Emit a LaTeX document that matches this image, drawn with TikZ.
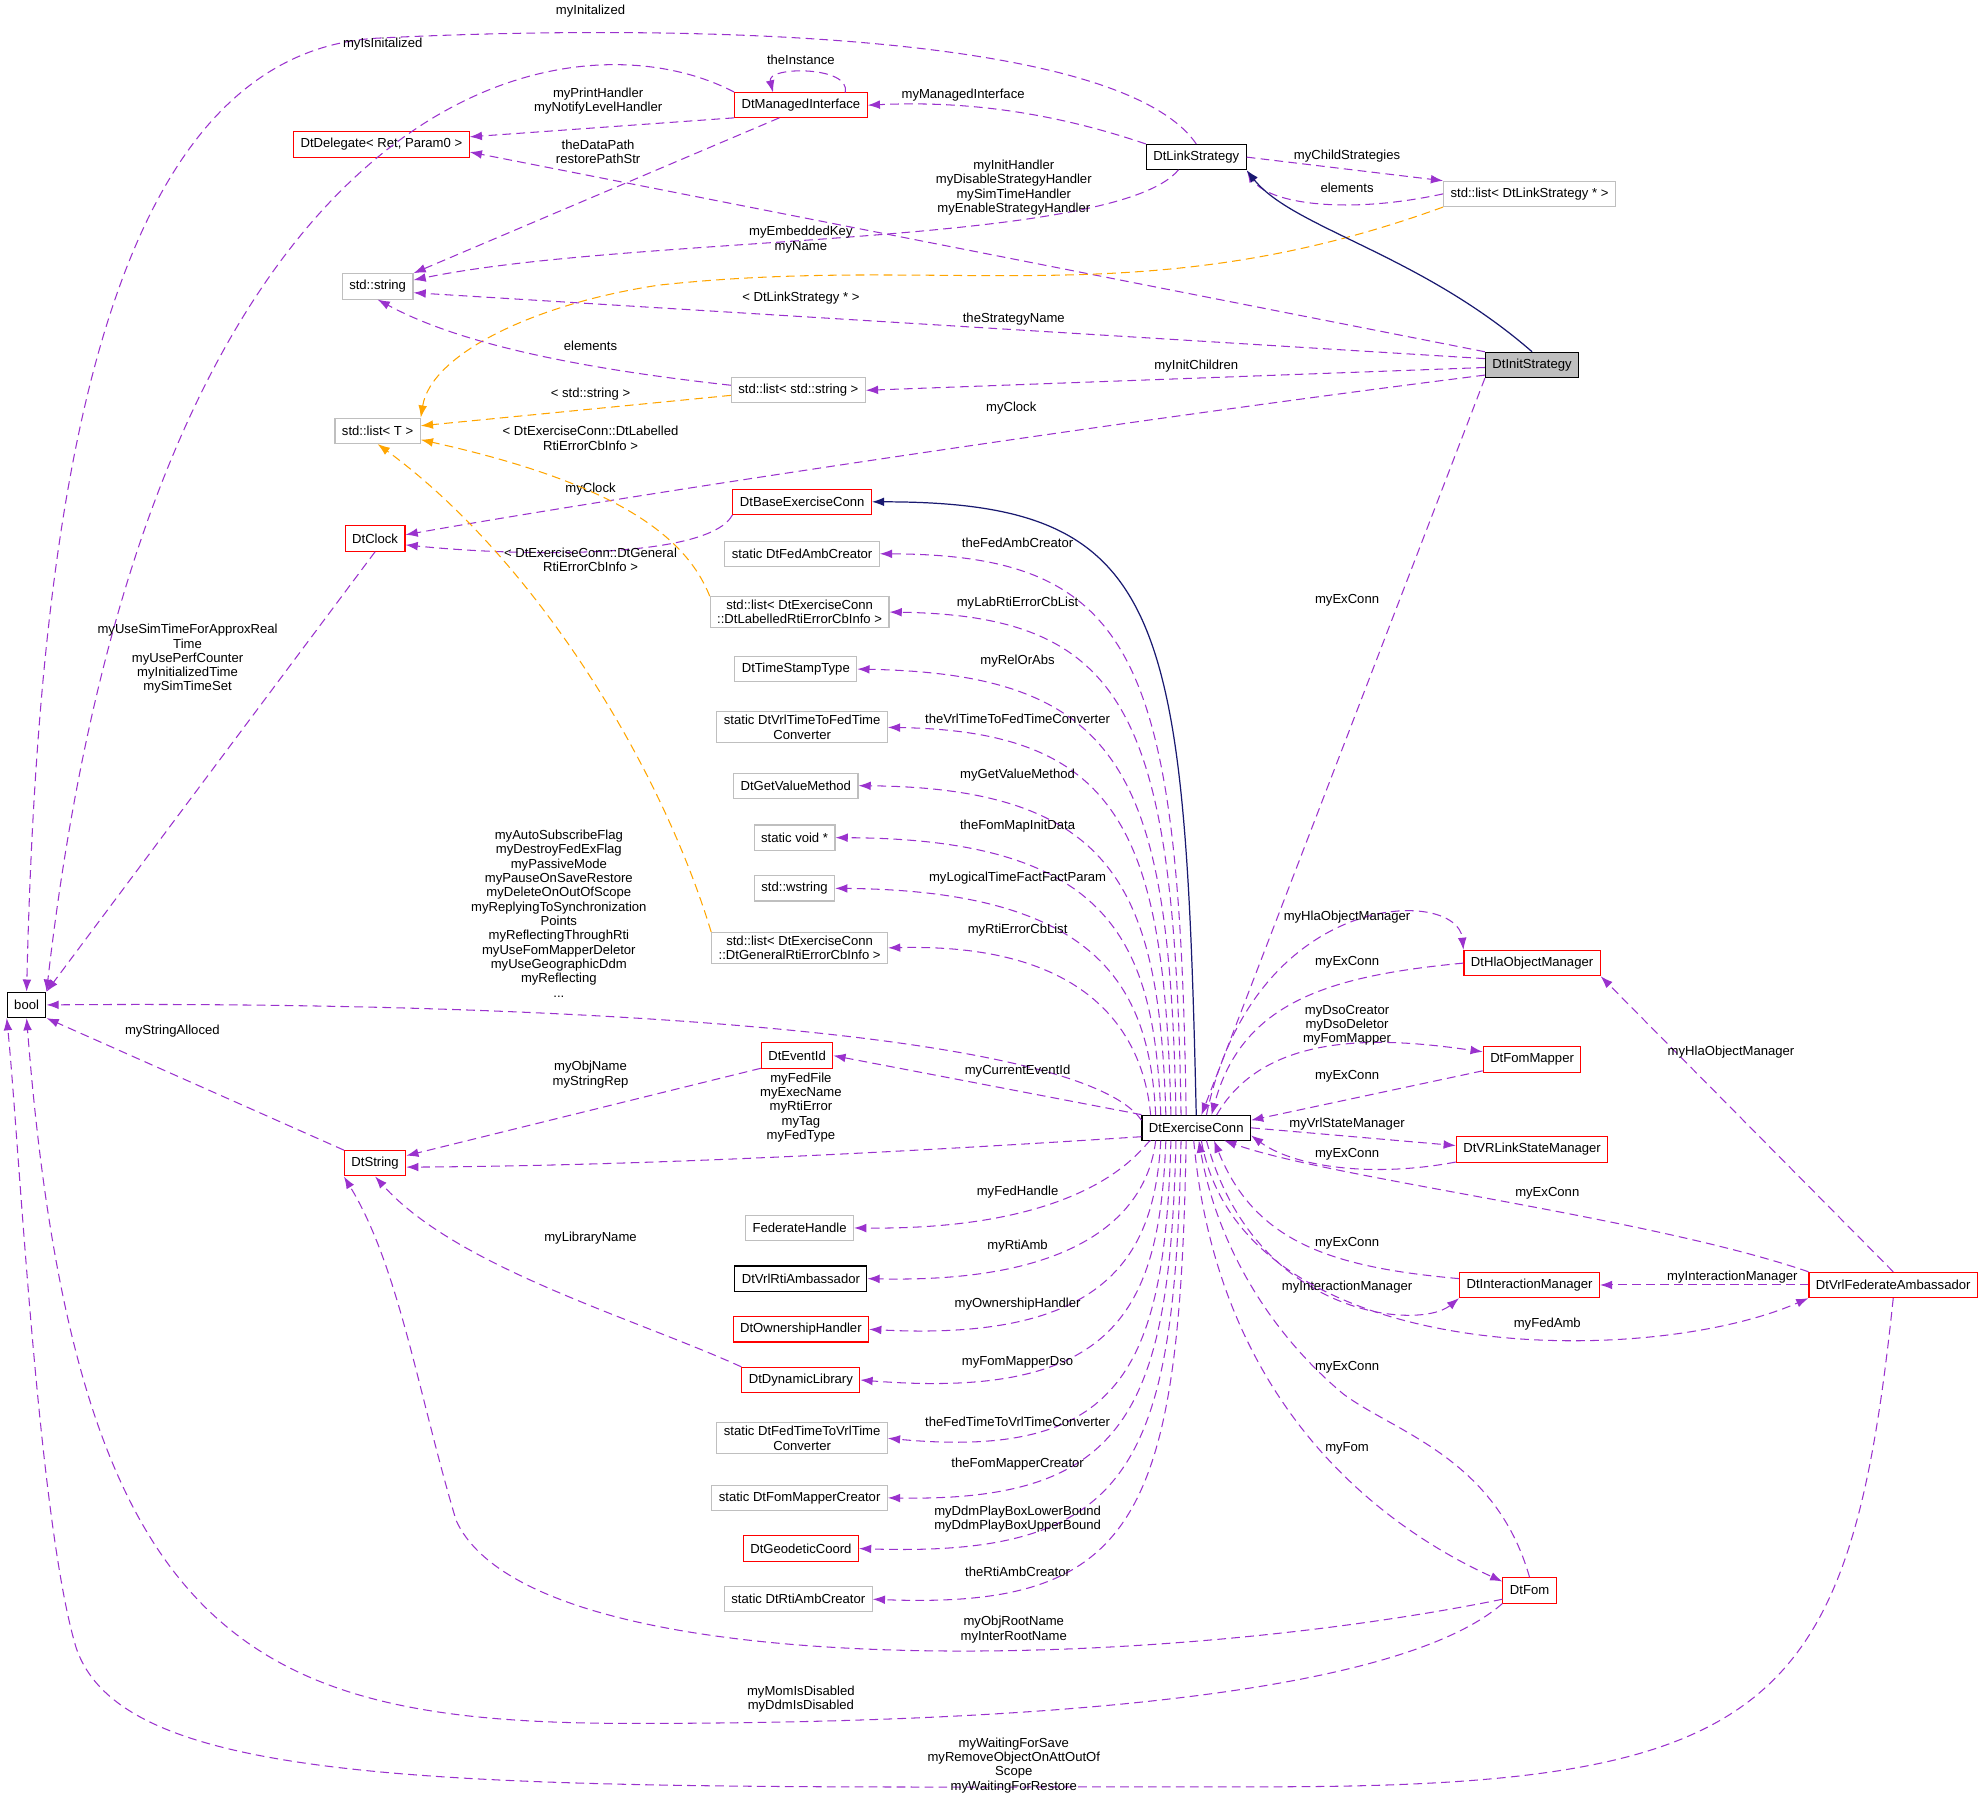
\documentclass[tikz,border=0pt]{standalone}
\usepackage{fontspec}
\setmainfont{Liberation Sans}
\usetikzlibrary{arrows.meta}
\definecolor{mem}{HTML}{9A32CD}
\definecolor{tpl}{HTML}{FFA500}
\definecolor{inh}{HTML}{191970}
\definecolor{gbox}{HTML}{BFBFBF}
\begin{document}
\begin{tikzpicture}[x=0.02551cm,y=-0.02551cm,
  font=\fontsize{7.5}{8.2}\selectfont,
  box/.style={draw,rectangle,minimum height=14.5pt,inner xsep=4pt,inner ysep=2pt,align=center,line width=0.6pt},
  rbox/.style={box,draw=red},
  kbox/.style={box,draw=black},
  gbx/.style={box,draw=gbox},
  lab/.style={align=center,inner sep=1pt},
  m/.style={draw=mem,dashed,dash pattern=on 5pt off 3pt,line width=0.6pt,-{Latex[length=7pt,width=5pt]}},
  t/.style={draw=tpl,dashed,dash pattern=on 5pt off 3pt,line width=0.6pt,-{Latex[length=7pt,width=5pt]}},
  ih/.style={draw=inh,line width=0.7pt,-{Latex[length=7pt,width=5pt]}}]
\useasboundingbox (0,0) rectangle (1568,1422);
% nodes
\node[kbox] (bool) at (21,793) {bool};
\node[gbx] (str) at (298,226) {std::string};
\node[gbx] (lt) at (298,340) {std::list< T >};
\node[rbox] (del) at (301,114) {DtDelegate< Ret, Param0 >};
\node[rbox] (clk) at (296,425) {DtClock};
\node[rbox] (dstr) at (296,918) {DtString};
\node[rbox] (mi) at (632,83) {DtManagedInterface};
\node[kbox] (ls) at (944,124) {DtLinkStrategy};
\node[gbx] (lls) at (1207,153) {std::list< DtLinkStrategy * >};
\node[kbox,fill=gbox] (is) at (1209,288) {DtInitStrategy};
\node[gbx] (lss) at (630,308) {std::list< std::string >};
\node[rbox] (bec) at (633,396) {DtBaseExerciseConn};
\node[gbx] (fac) at (633,437) {static DtFedAmbCreator};
\node[gbx] (llab) at (631,483) {std::list< DtExerciseConn\\::DtLabelledRtiErrorCbInfo >};
\node[gbx] (ts) at (628,528) {DtTimeStampType};
\node[gbx] (v2f) at (633,574) {static DtVrlTimeToFedTime\\Converter};
\node[gbx] (gvm) at (628,620) {DtGetValueMethod};
\node[gbx] (vd) at (627,661) {static void *};
\node[gbx] (ws) at (627,701) {std::wstring};
\node[gbx] (lgen) at (631,748) {std::list< DtExerciseConn\\::DtGeneralRtiErrorCbInfo >};
\node[rbox] (eid) at (629,833) {DtEventId};
\node[gbx] (fh) at (631,969) {FederateHandle};
\node[kbox] (vra) at (632,1009) {DtVrlRtiAmbassador};
\node[rbox] (own) at (632,1049) {DtOwnershipHandler};
\node[rbox] (dl) at (632,1089) {DtDynamicLibrary};
\node[gbx] (f2v) at (633,1135) {static DtFedTimeToVrlTime\\Converter};
\node[gbx] (fmc) at (631,1182) {static DtFomMapperCreator};
\node[rbox] (geo) at (632,1222) {DtGeodeticCoord};
\node[gbx] (rac) at (630,1262) {static DtRtiAmbCreator};
\node[kbox] (ec) at (944,890) {DtExerciseConn};
\node[rbox] (hla) at (1209,760) {DtHlaObjectManager};
\node[rbox] (fm) at (1209,836) {DtFomMapper};
\node[rbox] (vsm) at (1209,907) {DtVRLinkStateManager};
\node[rbox] (im) at (1207,1014) {DtInteractionManager};
\node[rbox] (vfa) at (1494,1014) {DtVrlFederateAmbassador};
\node[rbox] (fom) at (1207,1255) {DtFom};
\coordinate (ect) at (944,880);
\coordinate (ecb) at (944,900);
% top edges
\draw[m] (ls.north) .. controls (880,20) and (500,20) .. (300,30) .. controls (80,40) and (30,400) .. (bool.north);
\node[lab] at (466,9) {myInitalized};
\draw[m] (mi.north west) .. controls (450,5) and (120,60) .. (bool.north east);
\node[lab] at (302,35) {myIsInitalized};
\draw[m] (667,73) .. controls (672,52) and (605,52) .. (610,73);
\node[lab] at (632,47) {theInstance};
\draw[m] (mi.west|-0,93) -- (del.east|-0,108);
\node[lab] at (472,80) {myPrintHandler\\myNotifyLevelHandler};
\draw[m] (is.north west) -- (del.east|-0,120);
\node[lab] at (472,120) {theDataPath\\restorePathStr};
\draw[m] (615,93) -- (str.north east);
\draw[m] (ls.north west) .. controls (820,85) and (750,80) .. (mi.east);
\node[lab] at (760,75) {myManagedInterface};
\draw[m] (930,134) .. controls (880,195) and (500,185) .. (str.east|-0,221);
\node[lab] at (800,148) {myInitHandler\\myDisableStrategyHandler\\mySimTimeHandler\\myEnableStrategyHandler};
\node[lab] at (632,189) {myEmbeddedKey\\myName};
\draw[t] (lls.south west) .. controls (900,250) and (750,200) .. (520,225) .. controls (420,240) and (340,280) .. (lt.north east);
\node[lab] at (632,235) {< DtLinkStrategy * >};
\draw[m] (ls.east) -- (lls.north west);
\node[lab] at (1063,123) {myChildStrategies};
\draw[m] (lls.west) .. controls (1060,170) and (1000,160) .. (ls.south east);
\node[lab] at (1063,148) {elements};
\draw[ih] (is.north) .. controls (1120,200) and (1020,180) .. (ls.south east);
\draw[m] (is.west|-0,283) -- (str.east|-0,231);
\node[lab] at (800,252) {theStrategyName};
\draw[m] (is.west|-0,290) -- (lss.east);
\node[lab] at (944,289) {myInitChildren};
\draw[m] (lss.west|-0,304) .. controls (450,290) and (360,270) .. (str.south);
\node[lab] at (466,273) {elements};
\draw[t] (lss.west|-0,312) -- (lt.east|-0,336);
\node[lab] at (466,311) {< std::string >};
\draw[m] (is.west|-0,296) .. controls (900,330) and (500,390) .. (clk.east|-0,422);
\node[lab] at (798,322) {myClock};
\draw[m] (bec.south west) .. controls (560,440) and (420,440) .. (clk.east|-0,430);
\node[lab] at (466,386) {myClock};
\draw[t] (llab.north west) .. controls (540,420) and (480,380) .. (lt.east|-0,347);
\node[lab] at (466,346) {< DtExerciseConn::DtLabelled\\RtiErrorCbInfo >};
\draw[t] (lgen.north west) .. controls (520,600) and (420,440) .. (lt.south);
\node[lab] at (466,442) {< DtExerciseConn::DtGeneral\\RtiErrorCbInfo >};
\draw[ih] (ect) .. controls (935,480) and (920,396) .. (bec.east);
% left bool/string edges
\draw[m] (clk.south) -- (bool.north east);
\node[lab] at (148,520) {myUseSimTimeForApproxReal\\Time\\myUsePerfCounter\\myInitializedTime\\mySimTimeSet};
\draw[m] (ec.west|-0,884) .. controls (850,810) and (400,790) .. (bool.east);
\node[lab] at (441,721) {myAutoSubscribeFlag\\myDestroyFedExFlag\\myPassiveMode\\myPauseOnSaveRestore\\myDeleteOnOutOfScope\\myReplyingToSynchronization\\Points\\myReflectingThroughRti\\myUseFomMapperDeletor\\myUseGeographicDdm\\myReflecting\\...};
\draw[m] (dstr.north west) -- (bool.south east);
\node[lab] at (136,814) {myStringAlloced};
\draw[m] (eid.west|-0,843) -- (dstr.east|-0,912);
\node[lab] at (466,848) {myObjName\\myStringRep};
\draw[m] (ec.west|-0,897) .. controls (700,910) and (500,920) .. (dstr.east|-0,921);
\node[lab] at (632,874) {myFedFile\\myExecName\\myRtiError\\myTag\\myFedType};
\draw[m] (dl.north west) .. controls (500,1040) and (360,1000) .. (dstr.south);
\node[lab] at (466,977) {myLibraryName};
\draw[m] (fom.west|-0,1262) .. controls (900,1320) and (420,1330) .. (360,1200) .. controls (330,1100) and (315,1000) .. (dstr.south west);
\node[lab] at (800,1286) {myObjRootName\\myInterRootName};
\draw[m] (fom.south west) .. controls (1100,1340) and (800,1360) .. (500,1360) .. controls (200,1360) and (60,1300) .. (bool.south);
\node[lab] at (632,1341) {myMomIsDisabled\\myDdmIsDisabled};
\draw[m] (vfa.south) .. controls (1460,1350) and (1400,1410) .. (1000,1410) .. controls (400,1410) and (100,1420) .. (60,1300) .. controls (30,1200) and (15,900) .. (bool.south west);
\node[lab] at (800,1393) {myWaitingForSave\\myRemoveObjectOnAttOutOf\\Scope\\myWaitingForRestore};
% exercise conn -> left members
\foreach \n/\xs/\l/\ly in {fac/936/theFedAmbCreator/428, llab/932/myLabRtiErrorCbList/476, ts/928/myRelOrAbs/522, v2f/924/theVrlTimeToFedTimeConverter/567, gvm/920/myGetValueMethod/612, vd/916/theFomMapInitData/652, ws/912/myLogicalTimeFactFactParam/693, lgen/908/myRtiErrorCbList/734}
  {\draw[m] (\xs,880) .. controls (\xs-5,\ly+90) and (\xs-40,\ly+10) .. (\n.east);
   \node[lab] at (803,\ly) {\l};}
\draw[m] (ec.north west) -- (eid.east);
\node[lab] at (803,845) {myCurrentEventId};
\foreach \n/\xs/\l/\ly in {fh/908/myFedHandle/941, vra/912/myRtiAmb/983, own/916/myOwnershipHandler/1029, dl/920/myFomMapperDso/1075, f2v/924/theFedTimeToVrlTimeConverter/1122, fmc/928/theFomMapperCreator/1155, geo/932/{myDdmPlayBoxLowerBound\\myDdmPlayBoxUpperBound}/1199, rac/936/theRtiAmbCreator/1240}
  {\draw[m] (\xs,900) .. controls (\xs-5,\ly-40) and (\xs-40,\ly+30) .. (\n.east);
   \node[lab] at (803,\ly) {\l};}
% right side
\draw[m] (is.south west) -- (948,880);
\node[lab] at (1063,474) {myExConn};
\draw[m] (952,880) .. controls (990,700) and (1150,700) .. (hla.north west);
\node[lab] at (1063,724) {myHlaObjectManager};
\draw[m] (hla.west) .. controls (1050,770) and (980,790) .. (956,880);
\node[lab] at (1063,759) {myExConn};
\draw[m] (960,880) .. controls (1000,810) and (1100,820) .. (fm.west|-0,830);
\node[lab] at (1063,809) {myDsoCreator\\myDsoDeletor\\myFomMapper};
\draw[m] (fm.west|-0,845) -- (ec.east|-0,884);
\node[lab] at (1063,849) {myExConn};
\draw[m] (ec.east|-0,890) -- (vsm.west|-0,904);
\node[lab] at (1063,887) {myVrlStateManager};
\draw[m] (vsm.west|-0,917) .. controls (1080,930) and (1020,920) .. (ec.east|-0,896);
\node[lab] at (1063,911) {myExConn};
\draw[m] (vfa.north west) .. controls (1300,960) and (1050,930) .. (966,900);
\node[lab] at (1221,942) {myExConn};
\draw[m] (im.west|-0,1009) .. controls (1050,1000) and (990,980) .. (958,900);
\node[lab] at (1063,981) {myExConn};
\draw[m] (952,900) .. controls (990,1040) and (1120,1050) .. (im.south west);
\node[lab] at (1063,1016) {myInteractionManager};
\draw[m] (948,900) .. controls (980,1080) and (1300,1080) .. (vfa.south west);
\node[lab] at (1221,1045) {myFedAmb};
\draw[m] (vfa.west) -- (im.east);
\node[lab] at (1367,1008) {myInteractionManager};
\draw[m] (vfa.north) -- (hla.south east);
\node[lab] at (1366,830) {myHlaObjectManager};
\draw[m] (fom.north) .. controls (1180,1150) and (1100,1130) .. (1060,1100) .. controls (1000,1050) and (960,980) .. (946,900);
\node[lab] at (1063,1079) {myExConn};
\draw[m] (942,900) .. controls (960,1100) and (1080,1200) .. (fom.west|-0,1248);
\node[lab] at (1063,1143) {myFom};
\end{tikzpicture}
\end{document}
